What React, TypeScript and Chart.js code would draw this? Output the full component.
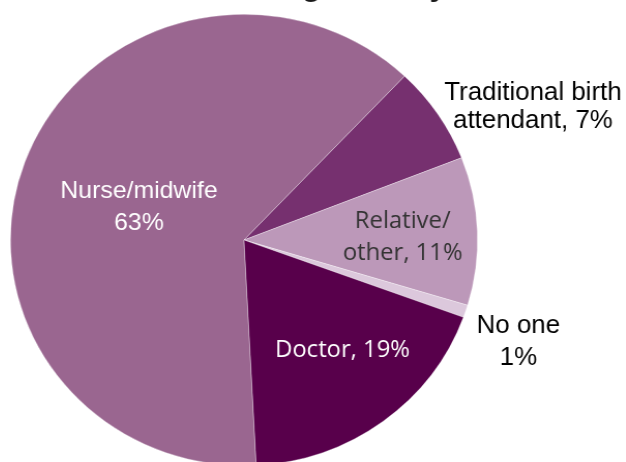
import React, { useEffect, useRef } from "react";
import { Chart, registerables } from "chart.js";

Chart.register(...registerables);

// ---- data ----
const categories = ["Nurse/midwife", "Traditional birth attendant", "Relative/other", "No one", "Doctor"];
const shares = [62.9, 7.0, 10.6, 0.9, 18.6];
const labelLines = [
  ["Nurse/midwife", "63%"],
  ["Traditional birth", "attendant, 7%"],
  ["Relative/", "other, 11%"],
  ["No one", "1%"],
  ["Doctor, 19%"],
];
const sliceColors = ["#9a6690", "#76306f", "#bc98b9", "#dcc8dc", "#58004b"];
const titleText = "Assistance during delivery";

// ---- label styling (radius fraction + small nudges) ----
const labelStyles = [
  { font: "24px 'Liberation Sans', Arial, sans-serif", color: "#ffffff", rf: 0.47, dx: -2, dy: 4, lh: 32 },
  { font: "25px 'Liberation Sans', Arial, sans-serif", color: "#000000", rf: 1.0, dx: 92, dy: -7, lh: 28 },
  { font: "23px 'Open Sans', sans-serif", color: "#333333", rf: 0.68, dx: 0, dy: 4, lh: 32 },
  { font: "25px 'Liberation Sans', Arial, sans-serif", color: "#000000", rf: 1.0, dx: 51, dy: 31, lh: 32 },
  { font: "23px 'Open Sans', sans-serif", color: "#ffffff", rf: 0.65, dx: 8, dy: -7, lh: 32 },
];

const labelPlugin = {
  id: "sliceLabels",
  afterDraw(chart: any) {
    const ctx = chart.ctx;
    const meta = chart.getDatasetMeta(0);
    ctx.save();
    meta.data.forEach((arc: any, i: number) => {
      const p = arc.getProps(["x", "y", "startAngle", "endAngle", "outerRadius"], true);
      const st = labelStyles[i];
      const mid = (p.startAngle + p.endAngle) / 2;
      const cx = p.x + Math.cos(mid) * p.outerRadius * st.rf + st.dx;
      const cy = p.y + Math.sin(mid) * p.outerRadius * st.rf + st.dy;
      const lines = labelLines[i];
      ctx.font = st.font;
      ctx.fillStyle = st.color;
      ctx.textAlign = "center";
      ctx.textBaseline = "middle";
      const top = cy - ((lines.length - 1) * st.lh) / 2;
      lines.forEach((ln, k) => ctx.fillText(ln, cx, top + k * st.lh));
    });
    // title (mostly cropped at the top of the picture)
    ctx.font = "bold 30px 'Liberation Sans', Arial, sans-serif";
    ctx.fillStyle = "#1a1a1a";
    ctx.textAlign = "right";
    ctx.textBaseline = "alphabetic";
    ctx.fillText(titleText, 440, -4);
    ctx.restore();
  },
};

export default function App() {
  const ref = useRef<HTMLCanvasElement | null>(null);
  useEffect(() => {
    document.body.style.margin = "0";
    const chart = new Chart(ref.current as HTMLCanvasElement, {
      type: "pie",
      data: {
        labels: categories,
        datasets: [
          {
            data: shares,
            backgroundColor: sliceColors,
            borderColor: "rgba(255,255,255,0.45)",
            borderWidth: 0.7,
          },
        ],
      },
      options: {
        responsive: false,
        animation: false,
        rotation: 177,
        layout: { padding: { top: 14, bottom: 14, left: 18, right: 156 } },
        plugins: { legend: { display: false }, tooltip: { enabled: false }, title: { display: false } },
      },
      plugins: [labelPlugin],
    });
    return () => chart.destroy();
  }, []);
  return (
    <div style={{ position: "fixed", left: 0, top: 0, width: 626, height: 462, overflow: "hidden", background: "#fff" }}>
      <div style={{ width: 626, height: 480, transform: "scaleX(1.035)", transformOrigin: "244px 0px" }}>
        <canvas ref={ref} width={626} height={480} style={{ width: 626, height: 480, display: "block" }} />
      </div>
    </div>
  );
}
